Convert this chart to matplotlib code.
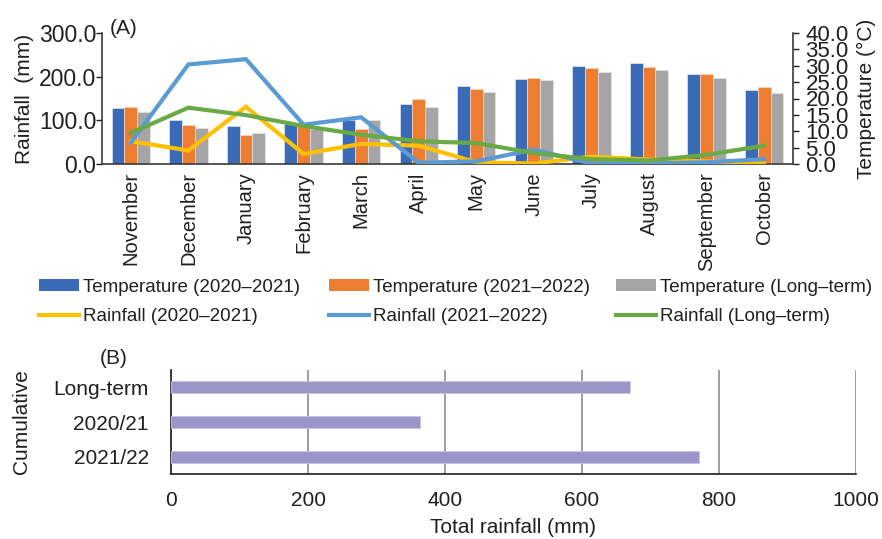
import matplotlib
matplotlib.use("Agg")
import matplotlib.pyplot as plt
from matplotlib.ticker import FormatStrFormatter, MultipleLocator
from matplotlib.patches import Patch
from matplotlib.lines import Line2D
import numpy as np

plt.rcParams["font.family"] = ["Liberation Sans", "DejaVu Sans"]
plt.rcParams["text.color"] = "#231f20"
plt.rcParams["axes.labelcolor"] = "#231f20"
plt.rcParams["xtick.color"] = "#231f20"
plt.rcParams["ytick.color"] = "#231f20"

# Monthly data (November to October)
months = ["November", "December", "January", "February", "March", "April",
          "May", "June", "July", "August", "September", "October"]
temp_2020_21 = [17.0, 13.5, 11.6, 12.2, 13.5, 18.2, 23.8, 25.9, 30.0, 30.7, 27.4, 22.6]
temp_2021_22 = [17.4, 11.8, 8.8, 11.9, 10.8, 19.9, 22.8, 26.4, 29.4, 29.5, 27.4, 23.4]
temp_long = [15.9, 11.1, 9.4, 10.6, 13.5, 17.5, 21.9, 25.5, 28.2, 28.8, 26.2, 21.7]
rain_2020_21 = [52, 31, 131, 23, 46, 42, 4, 1, 17, 10, 6, 2]
rain_2021_22 = [49, 228, 240, 90, 107, 3, 6, 33, 1, 1, 4, 11]
rain_long = [71, 129, 112, 87, 67, 52, 48, 25, 11, 8, 21, 42]

# Cumulative rainfall per season
seasons = ["Long-term", "2020/21", "2021/22"]
total_rain = [670, 363, 771]

C_T1, C_T2, C_T3 = "#3a6bb6", "#ed7d31", "#a5a5a5"
C_R1, C_R2, C_R3 = "#ffc000", "#5b9bd5", "#6aaa45"
BAR_C = "#9b95c9"

W, H = 882, 539
fig = plt.figure(figsize=(W / 100, H / 100), dpi=100)


def frac(x0, y0, x1, y1):
    return [x0 / W, 1 - y1 / H, (x1 - x0) / W, (y1 - y0) / H]


# ---------- Panel A ----------
ax_t = fig.add_axes(frac(102, 33, 793, 164))
ax_r = ax_t.twinx()

x = np.arange(len(months))
bw = 0.222
ax_t.bar(x - bw, temp_2020_21, bw, color=C_T1, edgecolor="#dfe6f3", linewidth=0.5)
ax_t.bar(x, temp_2021_22, bw, color=C_T2, edgecolor="#fbd9c2", linewidth=0.5)
ax_t.bar(x + bw, temp_long, bw, color=C_T3, edgecolor="#e6e6e6", linewidth=0.5)

ax_r.plot(x, rain_2020_21, color=C_R1, lw=3.0, solid_joinstyle="miter")
ax_r.plot(x, rain_2021_22, color=C_R2, lw=3.0, solid_joinstyle="miter")
ax_r.plot(x, rain_long, color=C_R3, lw=3.0, solid_joinstyle="miter")

ax_t.set_xlim(-0.5, len(months) - 0.5)
ax_t.set_ylim(0, 40)
ax_r.set_ylim(0, 300)

# temperature axis on the right, rainfall on the left
ax_t.yaxis.tick_right()
ax_t.yaxis.set_label_position("right")
ax_r.yaxis.tick_left()
ax_r.yaxis.set_label_position("left")

ax_t.yaxis.set_major_locator(MultipleLocator(5))
ax_t.yaxis.set_major_formatter(FormatStrFormatter("%.1f"))
ax_r.yaxis.set_major_locator(MultipleLocator(100))
ax_r.yaxis.set_major_formatter(FormatStrFormatter("%.1f"))

for a in (ax_t, ax_r):
    for s in a.spines.values():
        s.set_color("#3a3a3a")
        s.set_linewidth(1.2)
    a.spines["top"].set_visible(False)
ax_t.spines["left"].set_visible(False)
ax_r.spines["right"].set_visible(False)
ax_r.spines["bottom"].set_visible(False)

ax_t.tick_params(axis="y", direction="out", length=4, width=1.0, pad=5, labelsize=16)
ax_r.tick_params(axis="y", direction="out", length=4, width=1.0, pad=0, labelsize=16.5)
ax_t.set_xticks(x)
ax_t.set_xticklabels(months, rotation=90, fontsize=14.5)
ax_t.tick_params(axis="x", length=0, pad=6)

ax_r.set_ylabel("Rainfall  (mm)", fontsize=15, labelpad=4)
ax_t.set_ylabel("Temperature (°C)", fontsize=15, labelpad=6)

fig.text(110 / W, 1 - 28 / H, "(A)", fontsize=15, ha="left", va="center")

# legend: three columns, each a temperature bar above a rainfall line
columns = [
    (39, (Patch(facecolor=C_T1, edgecolor="none"), "Temperature (2020–2021)"),
         (Line2D([], [], color=C_R1, lw=3), "Rainfall (2020–2021)")),
    (329, (Patch(facecolor=C_T2, edgecolor="none"), "Temperature (2021–2022)"),
          (Line2D([], [], color=C_R2, lw=3), "Rainfall (2021–2022)")),
    (616, (Patch(facecolor=C_T3, edgecolor="none"), "Temperature (Long–term)"),
          (Line2D([], [], color=C_R3, lw=3), "Rainfall (Long–term)")),
]
for x0, top, bottom in columns:
    fig.legend([top[0], bottom[0]], [top[1], bottom[1]], loc="upper left",
               bbox_to_anchor=(x0 / W, 1 - 279 / H), frameon=False,
               fontsize=13.5, handlelength=2.15, handleheight=0.6,
               handletextpad=0.22, labelspacing=0.65, borderpad=0,
               borderaxespad=0)

# ---------- Panel B ----------
ax_b = fig.add_axes(frac(171, 370, 856, 474))
yb = np.arange(len(seasons))
ax_b.barh(yb, total_rain, height=0.35, color=BAR_C, edgecolor="#c9c5e3", linewidth=0.6, zorder=3)
ax_b.set_ylim(len(seasons) - 0.5, -0.5)
ax_b.set_xlim(0, 1000)
ax_b.set_xticks([0, 200, 400, 600, 800, 1000])
ax_b.set_yticks(yb)
ax_b.set_yticklabels(seasons)
ax_b.grid(axis="x", color="#8c8c8c", lw=1.2, zorder=0)
ax_b.tick_params(axis="both", length=0, labelsize=15)
ax_b.tick_params(axis="x", pad=12)
ax_b.tick_params(axis="y", pad=16)
ax_b.spines["top"].set_visible(False)
ax_b.spines["right"].set_visible(False)
ax_b.spines["left"].set_color("#231f20")
ax_b.spines["bottom"].set_color("#231f20")
ax_b.spines["left"].set_linewidth(1.2)
ax_b.spines["bottom"].set_linewidth(1.2)
ax_b.set_xlabel("Total rainfall (mm)", fontsize=15, labelpad=6)
ax_b.set_ylabel("Cumulative", fontsize=15, labelpad=16)
fig.text(100 / W, 1 - 358 / H, "(B)", fontsize=15, ha="left", va="center")

fig.savefig("out.png", dpi=100)
